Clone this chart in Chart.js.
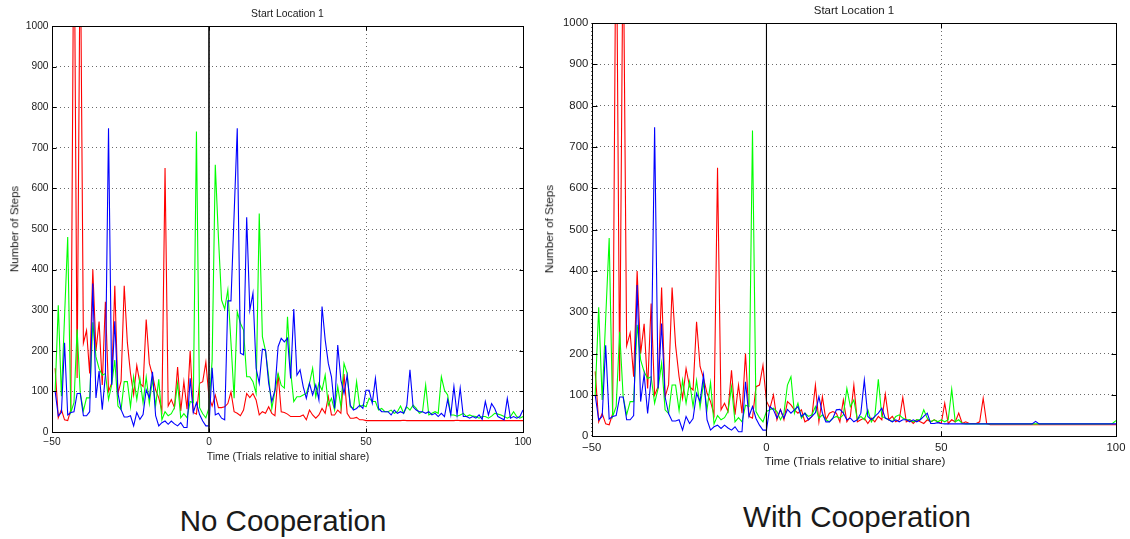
<!DOCTYPE html>
<html><head><meta charset="utf-8">
<script src="https://cdn.jsdelivr.net/npm/chart.js@4.4.0/dist/chart.umd.min.js"></script>
<style>
html,body{margin:0;padding:0;background:#fff;}
body{width:1130px;height:539px;position:relative;overflow:hidden;font-family:"Liberation Sans",Arial,Helvetica,sans-serif;}
canvas{position:absolute;top:0;}
.t{position:absolute;white-space:nowrap;color:#1a1a1a;transform:translate(-50%,-50%);line-height:1;}
.r{transform:translate(-50%,-50%) rotate(-90deg);}
</style></head><body>
<canvas id="c1" width="540" height="470" style="left:0px"></canvas>
<canvas id="c2" width="590" height="475" style="left:540px"></canvas>

<div class="t" style="left:287.5px;top:13.5px;font-size:10.4px">Start Location 1</div>
<div class="t" style="left:288px;top:456px;font-size:10.5px">Time (Trials relative to initial share)</div>
<div class="t r" style="left:14.7px;top:228.5px;font-size:11.5px">Number of Steps</div>

<div class="t" style="left:854px;top:10.5px;font-size:11.5px">Start Location 1</div>
<div class="t" style="left:855px;top:461px;font-size:11.7px">Time (Trials relative to initial share)</div>
<div class="t r" style="left:550px;top:229px;font-size:11.8px">Number of Steps</div>

<div class="t" style="left:283px;top:521px;font-size:29.5px">No Cooperation</div>
<div class="t" style="left:857px;top:517px;font-size:29.5px">With Cooperation</div>

<script>
// Trial index relative to the initial share
const trials = [-49,-48,-47,-46,-45,-44,-43,-42,-41,-40,-39,-38,-37,-36,-35,-34,-33,-32,-31,-30,
-29,-28,-27,-26,-25,-24,-23,-22,-21,-20,-19,-18,-17,-16,-15,-14,-13,-12,-11,-10,
-9,-8,-7,-6,-5,-4,-3,-2,-1,0,
1,2,3,4,5,6,7,8,9,10,11,12,13,14,15,16,17,18,19,20,
21,22,23,24,25,26,27,28,29,30,31,32,33,34,35,36,37,38,39,40,
41,42,43,44,45,46,47,48,49,50,51,52,53,54,55,56,57,58,59,60,
61,62,63,64,65,66,67,68,69,70,71,72,73,74,75,76,77,78,79,80,
81,82,83,84,85,86,87,88,89,90,91,92,93,94,95,96,97,98,99,100];

// Before the share (t = -49 .. 0), identical in both panels
const preRed = [157,35,55,30,28,55,1350,133,1250,219,
 250,144,400,200,272,116,321,100,120,360,
 95,125,360,220,144,92,164,120,112,277,
 169,140,104,84,52,650,64,80,60,160,
 52,124,56,200,48,44,120,124,172,85];
const preGreen = [100,312,88,285,480,48,72,253,96,52,
 84,84,270,185,156,140,144,80,116,177,
 64,55,124,124,62,136,80,132,72,135,
 70,130,65,130,30,50,40,45,60,120,
 35,45,35,75,72,740,60,45,35,60];
const preBlue = [100,40,48,220,42,48,50,95,95,40,
 40,50,366,84,150,55,140,748,116,273,
 95,55,37,37,40,15,48,31,43,104,
 84,148,40,15,23,27,19,27,20,15,
 23,11,11,132,48,72,43,27,15,15];

// After the share (t = 1 .. 100), No Cooperation
const noCoopRed = [64,91,60,60,62,70,99,50,46,40,
 54,95,85,95,79,42,50,46,62,46,
 40,144,50,48,44,38,38,38,38,42,
 30,54,42,34,42,58,46,87,42,42,
 54,46,143,46,34,34,36,30,30,28,
 28,28,28,28,28,28,28,28,28,28,
 28,29,28,28,28,28,28,28,28,28,
 28,28,28,28,28,28,28,28,29,28,
 28,28,28,28,28,28,28,28,28,28,
 28,28,28,28,28,28,28,28,28,28];
const noCoopGreen = [177,658,480,325,303,350,220,83,296,268,
 251,136,136,124,95,538,235,200,136,58,
 100,144,115,108,284,150,75,87,87,91,
 95,120,157,87,120,103,140,66,83,54,
 112,62,169,144,62,58,124,62,66,62,
 83,75,75,54,58,50,50,54,46,50,
 64,46,62,54,66,58,46,50,116,42,
 46,50,46,136,103,91,42,42,39,42,
 46,38,42,39,38,34,38,38,34,39,
 46,44,42,38,34,38,50,38,34,38];
const noCoopBlue = [158,42,46,34,30,323,323,536,748,194,
 190,529,300,342,157,120,204,202,120,75,
 103,210,231,222,231,132,303,140,153,112,
 83,120,91,116,79,309,227,169,136,58,
 214,128,95,140,66,54,58,66,58,103,
 103,71,132,58,50,50,50,42,54,46,
 50,46,66,153,62,54,50,50,46,50,
 42,46,38,46,38,80,42,112,42,108,
 38,38,34,38,34,42,31,75,42,70,
 58,38,34,30,83,34,38,34,38,54];

// After the share (t = 1 .. 100), With Cooperation
const withCoopRed = [68,100,40,65,40,84,76,64,56,64,
 35,40,48,124,35,96,40,56,60,56,
 35,88,35,48,124,35,40,44,31,44,
 35,48,40,102,40,48,35,40,94,35,
 40,31,40,35,31,40,35,40,35,31,
 80,31,40,35,56,31,35,31,31,31,
 35,92,31,28,28,28,28,28,28,28,
 28,28,28,28,28,28,28,28,28,28,
 28,28,28,28,28,28,28,28,28,28,
 28,28,28,28,28,28,28,28,28,28];
const withCoopGreen = [64,68,60,40,56,124,144,56,80,44,
 56,48,52,72,44,52,40,35,44,48,
 44,52,116,72,88,40,48,40,64,35,
 48,138,48,44,40,35,48,52,44,40,
 40,35,40,40,64,44,35,40,35,40,
 35,40,114,35,40,31,30,30,30,30,
 30,30,30,30,30,30,30,30,30,30,
 30,30,30,30,30,30,30,30,30,30,
 30,30,30,30,30,30,30,30,30,30,
 30,30,30,30,30,30,30,30,31,38];
const withCoopBlue = [72,64,44,64,44,65,56,64,72,48,
 56,40,48,57,96,56,35,35,44,64,
 65,56,40,44,35,40,56,136,48,40,
 48,56,68,44,40,35,40,35,40,40,
 35,40,35,40,48,56,31,31,33,31,
 30,30,30,30,30,30,30,30,30,30,
 30,30,30,30,30,30,30,30,30,30,
 30,30,30,30,30,30,36,30,30,30,
 30,30,30,30,30,30,30,30,30,30,
 30,30,30,30,30,30,30,30,30,30];

// Share marker (vertical line at t = 0)
const shareX = [0, 0];
const shareY = [0, 1000];

// Axis ticks
const xTicks = [-50, 0, 50, 100];
const yTicks = [0,100,200,300,400,500,600,700,800,900,1000];

function series(pre, post){
  const ys = pre.concat(post);
  return trials.map((t,i)=>({x:t, y:ys[i]}));
}

const boxPlugin = {
  id:'box',
  afterDraw(chart, args, opts){
    const {ctx, chartArea:a, scales:{x, y}} = chart;
    ctx.save();
    ctx.strokeStyle = '#000';
    ctx.lineWidth = opts.lw || 1;
    const l = Math.round(a.left)+0.5, t = Math.round(a.top)+0.5;
    const r = Math.round(a.right)+0.5, b = Math.round(a.bottom)+0.5;
    ctx.strokeRect(l, t, r-l, b-t);
    const L = opts.len || 4;
    ctx.lineWidth = 1;
    ctx.beginPath();
    y.ticks.forEach(tk=>{
      const py = Math.round(y.getPixelForValue(tk.value))+0.5;
      ctx.moveTo(l,py); ctx.lineTo(l+L,py);
      ctx.moveTo(r,py); ctx.lineTo(r-L,py);
    });
    x.ticks.forEach(tk=>{
      const px = Math.round(x.getPixelForValue(tk.value))+0.5;
      ctx.moveTo(px,b); ctx.lineTo(px,b-L);
      ctx.moveTo(px,t); ctx.lineTo(px,t+L);
    });
    ctx.stroke();
    ctx.restore();
  }
};

function makeChart(id, post, g){
  const ctx = document.getElementById(id);
  return new Chart(ctx, {
    type:'line',
    data:{
      datasets:[
        {data: shareX.map((v,i)=>({x:v, y:shareY[i]})), borderColor:g.shareColor, borderWidth:g.shareW, pointRadius:0},
        {data: series(preBlue, post.b), borderColor:'#0000ff', borderWidth:1.1, pointRadius:0},
        {data: series(preGreen, post.g), borderColor:'#00ff00', borderWidth:1.1, pointRadius:0},
        {data: series(preRed, post.r), borderColor:'#ff0000', borderWidth:1.1, pointRadius:0}
      ]
    },
    options:{
      responsive:false, animation:false, events:[],
      layout:{padding:{left:0, right:g.padR, top:g.padT, bottom:0}},
      elements:{line:{tension:0}},
      plugins:{legend:{display:false}, tooltip:{enabled:false}, title:{display:false},
        box:{len:g.tickLen, lw:g.boxW}},
      scales:{
        x:{type:'linear', min:-50, max:100,
          afterBuildTicks(s){ s.ticks = xTicks.map(v=>({value:v})); },
          afterFit(s){ s.height = g.xH; },
          grid:{color:'#6a6a6a', lineWidth:1, drawTicks:false},
          border:{display:false, dash:[1,3]},
          ticks:{padding:g.xPad, color:'#1a1a1a', maxRotation:0, autoSkip:false,
            font:{family:'"Liberation Sans", Arial, sans-serif', size:g.fs},
            callback:(v)=> v<0 ? '\u2212'+Math.abs(v) : String(v)}
        },
        y:{type:'linear', min:0, max:1000,
          afterBuildTicks(s){ s.ticks = yTicks.map(v=>({value:v})); },
          afterFit(s){ s.width = g.yW; },
          grid:{color:'#6a6a6a', lineWidth:1, drawTicks:false},
          border:{display:false, dash:[1,3]},
          ticks:{padding:3.5, color:'#1a1a1a', autoSkip:false,
            font:{family:'"Liberation Sans", Arial, sans-serif', size:g.fs},
            callback:(v)=> String(v)}
        }
      }
    },
    plugins:[boxPlugin]
  });
}

makeChart('c1', {r:noCoopRed, g:noCoopGreen, b:noCoopBlue},
  {padR:17, padT:26, xH:38, yW:52, xPad:4, fs:10.2, tickLen:4, boxW:1, shareW:1.8, shareColor:'#222'});
makeChart('c2', {r:withCoopRed, g:withCoopGreen, b:withCoopBlue},
  {padR:14, padT:23, xH:38.7, yW:51.7, xPad:4.5, fs:11.3, tickLen:5, boxW:1, shareW:1.1, shareColor:'#000'});
</script>
</body></html>
